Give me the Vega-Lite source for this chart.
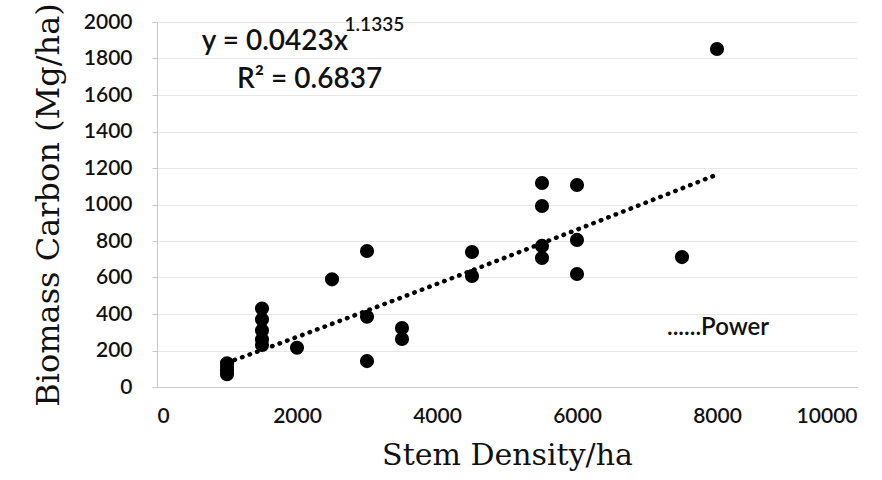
{
  "$schema": "https://vega.github.io/schema/vega-lite/v6.json",
  "width": 700,
  "height": 365,
  "autosize": {"type": "none"},
  "padding": {"left": 157, "top": 22, "right": 25, "bottom": 93},
  "background": "white",
  "config": {
    "view": {"stroke": null},
    "axis": {"labelFont": "Lato", "labelFontSize": 21, "labelFontWeight": 600, "labelColor": "#111", "titleFont": "DejaVu Serif", "titleFontWeight": "normal", "titleColor": "#111", "domainColor": "#c8c8c8", "tickColor": "#c8c8c8", "gridColor": "#e6e6e6"}
  },
  "datasets": {
    "pts": [
      {"stem": 1000, "carbon": 70},
      {"stem": 1000, "carbon": 90},
      {"stem": 1000, "carbon": 110},
      {"stem": 1000, "carbon": 130},
      {"stem": 1500, "carbon": 430},
      {"stem": 1500, "carbon": 370},
      {"stem": 1500, "carbon": 310},
      {"stem": 1500, "carbon": 260},
      {"stem": 1500, "carbon": 230},
      {"stem": 2000, "carbon": 215},
      {"stem": 2500, "carbon": 590},
      {"stem": 3000, "carbon": 745},
      {"stem": 3000, "carbon": 385},
      {"stem": 3000, "carbon": 142},
      {"stem": 3500, "carbon": 323},
      {"stem": 3500, "carbon": 263},
      {"stem": 4500, "carbon": 740},
      {"stem": 4500, "carbon": 608},
      {"stem": 5500, "carbon": 1118},
      {"stem": 5500, "carbon": 992},
      {"stem": 5500, "carbon": 773},
      {"stem": 5500, "carbon": 707},
      {"stem": 6000, "carbon": 1107},
      {"stem": 6000, "carbon": 806},
      {"stem": 6000, "carbon": 619},
      {"stem": 7500, "carbon": 712},
      {"stem": 8000, "carbon": 1852}
    ],
    "notes": [
      {"stem": 640, "carbon": 1890, "label": "y = 0.0423x", "kind": "main"},
      {"stem": 2680, "carbon": 1982, "label": "1.1335", "kind": "sup"},
      {"stem": 1143, "carbon": 1682, "label": "R² = 0.6837", "kind": "main"},
      {"stem": 7286, "carbon": 323, "label": "......Power", "kind": "legend"}
    ]
  },
  "encoding": {
    "x": {"field": "stem", "type": "quantitative", "scale": {"domain": [0, 10000], "nice": false},
      "axis": {"values": [0, 2000, 4000, 6000, 8000, 10000], "format": "d", "labelOverlap": false, "grid": false, "labelPadding": 18, "tickSize": 0, "title": "Stem Density/ha", "titleFontSize": 30, "titlePadding": 14}},
    "y": {"field": "carbon", "type": "quantitative", "scale": {"domain": [0, 2000], "nice": false},
      "axis": {"values": [0, 200, 400, 600, 800, 1000, 1200, 1400, 1600, 1800, 2000], "tickCount": 11, "format": "d", "labelOverlap": false, "grid": true, "tickSize": 5, "labelPadding": 20, "title": "Biomass Carbon (Mg/ha)", "titleFontSize": 32, "titlePadding": 18}}
  },
  "layer": [
    {
      "data": {"name": "pts"},
      "transform": [{"regression": "carbon", "on": "stem", "method": "pow", "extent": [1000, 8000]}],
      "mark": {"type": "line", "color": "black", "strokeWidth": 4.5, "strokeDash": [0.5, 7.5], "strokeCap": "round"}
    },
    {
      "data": {"name": "pts"},
      "mark": {"type": "circle", "size": 200, "color": "black", "opacity": 1}
    },
    {
      "data": {"name": "notes"},
      "transform": [{"filter": "datum.kind == 'main'"}],
      "mark": {"type": "text", "align": "left", "baseline": "middle", "font": "Lato", "fontSize": 28, "fontWeight": 600, "color": "#111"},
      "encoding": {"text": {"field": "label"}}
    },
    {
      "data": {"name": "notes"},
      "transform": [{"filter": "datum.kind == 'sup'"}],
      "mark": {"type": "text", "align": "left", "baseline": "middle", "font": "Lato", "fontSize": 19, "fontWeight": 600, "color": "#111"},
      "encoding": {"text": {"field": "label"}}
    },
    {
      "data": {"name": "notes"},
      "transform": [{"filter": "datum.kind == 'legend'"}],
      "mark": {"type": "text", "align": "left", "baseline": "middle", "font": "Lato", "fontSize": 24, "fontWeight": 600, "color": "#111"},
      "encoding": {"text": {"field": "label"}}
    }
  ]
}
